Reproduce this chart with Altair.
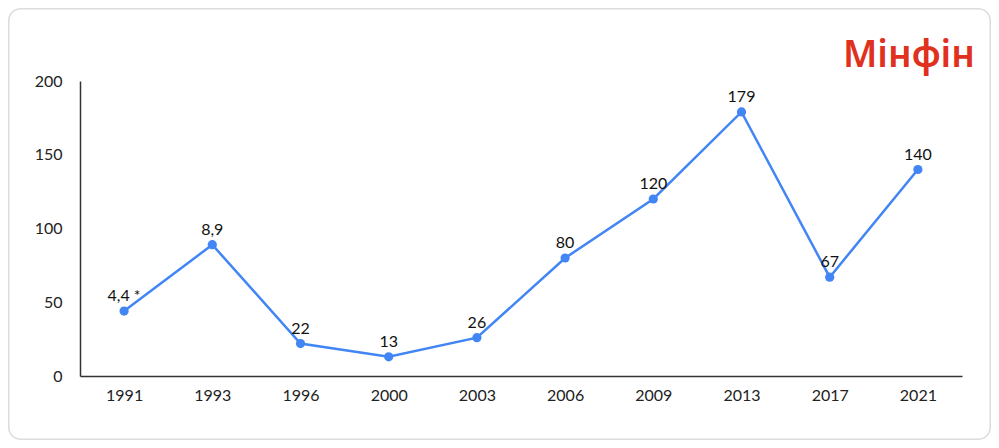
import altair as alt
import pandas as pd

years = ["1991", "1993", "1996", "2000", "2003", "2006", "2009", "2013", "2017", "2021"]
values = [44, 89, 22, 13, 26, 80, 120, 179, 67, 140]
labels = ["4,4 *", "8,9", "22", "13", "26", "80", "120", "179", "67", "140"]

df = pd.DataFrame({"year": years, "value": values, "label": labels})

W, H = 882, 295
PL, PT = 72, 73
SW, SH = 983, 432

x = alt.X("year:O", sort=years, title=None,
          scale=alt.Scale(type="point", padding=0.5),
          axis=alt.Axis(labelAngle=0, ticks=False, grid=False, domainColor="#333", domainWidth=1.5,
                        labelFont="Lato", labelFontSize=16, labelColor="#222", labelPadding=11))
y = alt.Y("value:Q", title=None,
          scale=alt.Scale(domain=[0, 200], nice=False),
          axis=alt.Axis(values=[0, 50, 100, 150, 200], ticks=False, grid=False,
                        domainColor="#333", domainWidth=1.5,
                        labelFont="Lato", labelFontSize=16, labelColor="#222", labelPadding=18))

base = alt.Chart(df)

line = base.mark_line(color="#4285f4", strokeWidth=2.5).encode(x=x, y=y)
pts = base.mark_point(filled=True, color="#4285f4", size=85, opacity=1).encode(x=x, y=y)
txt = base.mark_text(font="Lato", fontSize=16, color="#111", dy=-10, baseline="alphabetic").encode(
    x=x, y=y, text="label:N")

logo = alt.Chart(pd.DataFrame({"t": ["Мінфін"]})).mark_text(
    font="Noto Sans", fontWeight=600, fontSize=37, color="#e0301e",
    align="right", baseline="alphabetic").encode(
    x=alt.value(895), y=alt.value(-14), text="t:N")

border = alt.Chart(pd.DataFrame({"a": [0]})).mark_rect(
    fillOpacity=0, stroke="#dcdcdc", strokeWidth=1.5, cornerRadius=12).encode(
    x=alt.value(-PL + 0.75), x2=alt.value(SW - 0.75 - PL),
    y=alt.value(-PT + 0.75), y2=alt.value(SH - 0.75 - PT))

chart = alt.layer(border, line, pts, txt, logo).properties(
    width=W, height=H,
    background="white",
    autosize=alt.AutoSizeParams(type="none"),
    padding={"left": PL, "top": PT, "right": SW - PL - W, "bottom": SH - PT - H},
).configure_view(stroke=None, strokeWidth=0)

chart.save("out.html", embed_options={"renderer": "svg", "actions": False})
